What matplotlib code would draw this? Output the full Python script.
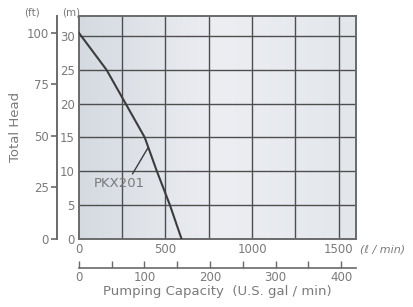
"""
PKX201 pump performance curve (total head vs. pumping capacity).
"""

import matplotlib.pyplot as plt
from matplotlib.colors import LinearSegmentedColormap
import numpy as np

# 曲线数据：流量 (L/min) 与扬程 (m)
flow_lpm = [0, 160, 270, 380, 450, 525, 592]
head_m = [30.5, 25, 20, 15, 10, 5, 0]

model_label = "PKX201"

lpm_ticks = [0, 500, 1000, 1500]
lpm_grid = [250, 500, 750, 1000, 1250, 1500]
m_ticks = [0, 5, 10, 15, 20, 25, 30]
ft_ticks = [0, 25, 50, 75, 100]
gpm_major = [0, 100, 200, 300, 400]
gpm_minor = [50, 150, 250, 350]

FT_PER_M = 3.28084
L_PER_GAL = 3.78541

TEXT = "#7a7a7a"
GRID = "#4e4e4e"
EDGE = "#6a6a6a"

plt.rcParams["font.family"] = ["DejaVu Sans"]

fig = plt.figure(figsize=(4.13, 3.07), dpi=100)
ax = fig.add_axes([0.191, 0.223, 0.671, 0.725])

ax.set_xlim(0, 1600)
ax.set_ylim(0, 33)

# 背景渐变
grad = np.linspace(0.0, 1.0, 256).reshape(1, -1)
bg_cmap = LinearSegmentedColormap.from_list(
    "bg", ["#d5dae1", "#eceef2", "#e3e6eb"]
)
ax.imshow(grad, extent=[0, 1, 0, 1], transform=ax.transAxes,
          aspect="auto", cmap=bg_cmap, zorder=0)

for x in lpm_grid:
    ax.axvline(x, color=GRID, lw=1.0, zorder=1)
for y in m_ticks[1:]:
    ax.axhline(y, color=GRID, lw=1.0, zorder=1)

ax.plot(flow_lpm, head_m, color="#3c3c3c", lw=1.5, zorder=3)

ax.annotate(
    model_label,
    xy=(400, 13.5),
    xytext=(235, 8.2),
    color=TEXT,
    fontsize=9.5,
    ha="center",
    va="center",
    arrowprops=dict(arrowstyle="-", color="#3c3c3c", lw=1.0,
                    shrinkA=0, shrinkB=0, relpos=(0.72, 1.0)),
    zorder=4,
)

for side in ["left", "right", "top", "bottom"]:
    ax.spines[side].set_color(EDGE)
    ax.spines[side].set_linewidth(1.4)

# 主坐标轴：L/min 与 m
ax.set_xticks(lpm_ticks)
ax.set_yticks(m_ticks)
ax.tick_params(axis="both", length=0, labelsize=8.5, labelcolor=TEXT)
ax.tick_params(axis="x", pad=3)
ax.tick_params(axis="y", pad=3)

ax.text(1.015, -0.05, "(\u2113 / min)", transform=ax.transAxes,
        fontsize=8, style="italic", color=TEXT, ha="left", va="center")

# 左侧 ft 坐标轴
ft_ax = ax.secondary_yaxis(
    -0.079, functions=(lambda m: m * FT_PER_M, lambda f: f / FT_PER_M)
)
ft_ax.set_yticks(ft_ticks)
ft_ax.spines["left"].set_color(EDGE)
ft_ax.spines["left"].set_linewidth(1.4)
ft_ax.tick_params(axis="y", direction="out", length=4, width=1.2,
                  color=EDGE, labelsize=8.5, labelcolor=TEXT, pad=2)
ft_ax.set_ylabel("Total Head", fontsize=9.5, color=TEXT, labelpad=3)

fig.text(0.077, 0.958, "(ft)", fontsize=7.5, color=TEXT, ha="center", va="center")
fig.text(0.173, 0.958, "(m)", fontsize=7.5, color=TEXT, ha="center", va="center")

# 下方 gal/min 坐标轴
gal_ax = ax.secondary_xaxis(
    -0.133, functions=(lambda l: l / L_PER_GAL, lambda g: g * L_PER_GAL)
)
gal_ax.set_xticks(gpm_major)
gal_ax.set_xticks(gpm_minor, minor=True)
gal_ax.spines["bottom"].set_color(EDGE)
gal_ax.spines["bottom"].set_linewidth(1.2)
gal_ax.tick_params(axis="x", which="both", direction="in", length=5,
                   width=1.0, color=EDGE, labelsize=8.5,
                   labelcolor=TEXT, pad=2)
gal_ax.set_xlabel("Pumping Capacity  (U.S. gal / min)", fontsize=9.5,
                  color=TEXT, labelpad=1)

fig.savefig("out.png", dpi=100)
